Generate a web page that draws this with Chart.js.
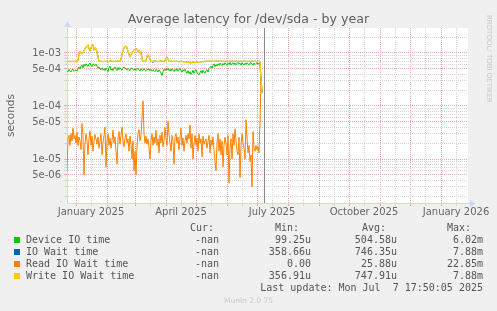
<!DOCTYPE html>
<html><head><meta charset="utf-8">
<script src="https://cdn.jsdelivr.net/npm/chart.js@4/dist/chart.umd.min.js"></script>
<style>
html,body{margin:0;padding:0;background:#F0F0F0;}
#wrap{position:relative;width:497px;height:311px;overflow:hidden;background:#F0F0F0;}
#c{position:absolute;left:0;top:0;}
#title{position:absolute;left:0;width:497px;top:11px;text-align:center;font-family:'DejaVu Sans',sans-serif;font-size:12.6px;line-height:16px;color:#5f5f5f;white-space:pre;}
.m{position:absolute;font-family:'DejaVu Sans Mono',monospace;font-size:10px;line-height:12px;height:12px;color:#555;white-space:pre;}
.r{text-align:right;}
.sw{position:absolute;width:6px;height:6px;}
#munin{position:absolute;left:0;width:497px;text-align:center;font-family:'DejaVu Sans',sans-serif;font-size:7.5px;line-height:10px;color:#c8c8c8;}
#rrd{position:absolute;font-family:'DejaVu Sans',sans-serif;font-size:7px;line-height:8px;color:#c8c8c8;white-space:pre;transform-origin:0 0;transform:rotate(90deg);}
</style></head>
<body><div id="wrap"><canvas id="c" width="497" height="311"></canvas></div>
<script>
// ---- data (values in microseconds, one per day starting at dayStart; day 0 = 1 Jan 2025)
const dayStart = -9;
const deviceIO = [470,445,485,455,440,475,495,450,470,
480,455,515,545,495,565,595,525,610,565,
625,575,555,615,645,585,555,625,600,575,
615,565,515,545,495,485,525,475,505,465,
515,485,445,535,565,475,505,465,515,545,
495,465,535,485,525,495,475,515,545,515,
505,475,515,485,465,505,525,485,475,505,
465,495,515,475,455,505,485,465,505,475,
465,495,475,505,465,495,455,485,465,445,
495,465,435,485,455,415,375,445,495,465,
505,475,515,465,495,455,505,475,445,495,
465,505,455,485,515,465,435,485,455,495,
445,415,465,405,445,395,425,475,415,455,
485,435,395,385,425,465,415,475,435,415,
465,485,435,505,535,565,515,585,625,555,
605,565,625,585,645,605,575,635,595,655,
615,585,645,605,665,595,635,655,605,645,
595,635,665,615,645,585,655,615,595,645,
605,655,625,595,645,665,615,585,645,605,
635,655,615,645,620,300,175];
const ioWait = [690,685,700,690,695,685,700,690,695,
690,700,720,950,1060,1000,980,1020,1120,1200,
1280,1350,1420,1200,1100,1250,1380,1430,1150,1250,
1200,1050,820,700,690,700,695,685,700,690,
695,700,690,685,700,720,690,700,695,690,
700,690,705,700,690,740,980,1100,1250,1320,
1340,1250,1060,950,860,920,1000,1080,1150,1170,
1200,1180,1050,1100,980,1050,760,700,690,700,
720,860,920,880,760,700,690,660,710,700,
690,700,695,690,700,710,700,690,700,720,
780,820,760,700,690,700,695,690,700,690,
690,700,695,680,690,700,685,690,680,690,
680,670,665,680,660,650,665,680,670,660,
670,680,665,660,670,685,690,680,690,700,
695,700,690,700,705,690,700,695,690,700,
695,700,705,690,700,695,700,690,700,695,
690,700,695,700,690,700,705,695,700,690,
700,695,690,700,695,700,690,695,700,690,
695,700,690,695,700,690,700,695,690,700,
695,690,700,690,680,330,185];
const readWait = [6,25,28,18,30,22,38,24,28,
20,32,18,26,22,15,47,28,5,20,
30,22,12,25,34,18,27,14,22,29,
24,19,26,16,21,30,12,20,28,40,
7,22,30,18,25,16,22,35,20,26,
14,8,24,33,19,28,40,22,17,25,
30,20,24,14,27,19,10,22,6,14,
5,18,30,36,22,28,60,125,30,20,
27,19,24,16,10,22,30,18,26,20,
35,18,24,13,28,20,32,17,22,40,
25,18,52,30,20,14,28,22,8,26,
30,20,26,15,24,38,18,25,14,22,
28,20,30,24,44,16,30,10,19,28,
18,25,14,30,20,24,11,27,19,22,
24,16,21,28,13,23,18,26,15,9,
6,20,30,14,24,12,22,7,18,26,
20,12,28,3.5,16,24,10,30,18,37,
22,14,12,26,4.5,18,30,20,16,10,
55,25,13,18,9,12,3,33,16,14,
18,15,17,13,50,300,180];
const writeWait = [690,685,700,690,695,685,700,690,695,
690,700,720,950,1060,1000,980,1020,1120,1200,
1280,1350,1420,1200,1100,1250,1380,1430,1150,1250,
1200,1050,820,700,690,700,695,685,700,690,
695,700,690,685,700,720,690,700,695,690,
700,690,705,700,690,740,980,1100,1250,1320,
1340,1250,1060,950,860,920,1000,1080,1150,1170,
1200,1180,1050,1100,980,1050,760,700,690,700,
720,860,920,880,760,700,690,700,710,700,
690,700,695,690,700,710,700,690,700,720,
780,820,760,700,690,700,695,690,700,690,
690,700,695,680,690,700,685,690,680,690,
680,670,665,680,660,650,665,680,670,660,
670,680,665,660,670,685,690,680,690,700,
695,700,690,700,705,690,700,695,690,700,
695,700,705,690,700,695,700,690,700,695,
690,700,695,700,690,700,705,695,700,690,
700,695,690,700,695,700,690,695,700,690,
695,700,690,695,700,690,700,695,690,700,
695,690,700,690,680,330,185];

const seriesNames = ['Device IO time','IO Wait time','Read IO Wait time','Write IO Wait time'];
const seriesColors = ['#00CC00','#0066B3','#FF8000','#FFCC00'];
const seriesWidths = [1, 1, 1, 1.4];
const curVals = ['-nan','-nan','-nan','-nan'];
const minVals = ['99.25u','358.66u','0.00','356.91u'];
const avgVals = ['504.58u','746.35u','25.88u','747.91u'];
const maxVals = ['6.02m','7.88m','22.85m','7.88m'];

const xLabelDays = [15,105,196,288,380];
const xLabels = ['January 2025','April 2025','July 2025','October 2025','January 2026'];
const monthStartDays = [0,31,59,90,120,151,181,212,243,273,304,334,365];
const midMonthDays = [15,46,74,105,135,166,196,227,258,288,319,349,380];
const yLabelValues = [5e-6,1e-5,5e-5,1e-4,5e-4,1e-3];
const nowDay = 187.74;
const xMin = -9, xMax = 392, yMin = 1.48e-6, yMax = 2.96e-3;
const titleText = 'Average latency for /dev/sda - by year';
const yTitle = 'seconds';
const lastUpdate = 'Last update: Mon Jul  7 17:50:05 2025';

// ---- build
const toPts = arr => arr.map((v,i)=>({x: dayStart + i, y: v*1e-6}));
const series = [deviceIO, ioWait, readWait, writeWait];
const datasets = series.map((arr,i)=>({
  label: seriesNames[i], data: toPts(arr), borderColor: seriesColors[i],
  borderWidth: seriesWidths[i], pointRadius: 0, tension: 0, fill: false, order: 3 - i
}));

const RED = '#eaa8a8', GRAY = '#d6d6d6';
const yTicks = [];
[1e-6,1e-5,1e-4,1e-3].forEach(d=>{[1,2,3,4,5,6,7,8,9].forEach(m=>{const v=m*d; if(v>=yMin&&v<=yMax) yTicks.push(v);});});
const mant = v => Math.round(v/Math.pow(10,Math.floor(Math.log10(v)+1e-9)));
const isYLabel = v => yLabelValues.some(l=>Math.abs(l-v)/l<1e-6);
const fmtY = v => { const e = Math.floor(Math.log10(v)+1e-9); const m = mant(v); return m + 'e-' + String(-e).padStart(2,'0'); };
const xTicks = [...monthStartDays, ...midMonthDays].filter(d=>d>=xMin&&d<=xMax).sort((a,b)=>a-b);

const deco = {
  id:'deco',
  beforeDraw(chart){
    const {ctx, chartArea:a} = chart;
    ctx.save(); ctx.fillStyle = '#FFFFFF';
    ctx.fillRect(a.left, a.top, a.right - a.left, a.bottom - a.top);
    ctx.restore();
  },
  afterDatasetsDraw(chart){
    const {ctx, chartArea:a, scales:{x}} = chart;
    ctx.save();
    const nx = Math.round(x.getPixelForValue(nowDay)) + 0.5;
    ctx.strokeStyle = '#888'; ctx.lineWidth = 1;
    ctx.beginPath(); ctx.moveTo(nx, a.top); ctx.lineTo(nx, a.bottom); ctx.stroke();
    ctx.restore();
  },
  afterDraw(chart){
    const {ctx, chartArea:a} = chart;
    ctx.save();
    ctx.fillStyle = '#CFD6F8'; ctx.strokeStyle = '#CFD6F8'; ctx.lineWidth = 1;
    const by = Math.round(a.bottom) + 0.5, lx = Math.round(a.left) + 0.5;
    ctx.beginPath(); ctx.moveTo(a.right, by); ctx.lineTo(a.right + 3, by); ctx.stroke();
    ctx.beginPath(); ctx.moveTo(a.right + 2, by - 3.5); ctx.lineTo(a.right + 7, by); ctx.lineTo(a.right + 2, by + 3.5); ctx.closePath(); ctx.fill();
    ctx.beginPath(); ctx.moveTo(lx - 3.5, a.top - 1); ctx.lineTo(lx, a.top - 7); ctx.lineTo(lx + 3.5, a.top - 1); ctx.closePath(); ctx.fill();
    ctx.restore();
  }
};

new Chart(document.getElementById('c'), {
  type:'line',
  data:{ datasets },
  plugins:[deco],
  options:{
    responsive:false, animation:false, devicePixelRatio:1,
    layout:{padding:{left:0,right:29,top:28,bottom:0}},
    plugins:{ legend:{display:false}, tooltip:{enabled:false}, title:{display:false} },
    scales:{
      x:{type:'linear', min:xMin, max:xMax,
        afterFit(s){ s.height = 108; },
        afterBuildTicks(s){ s.ticks = xTicks.map(v=>({value:v})); },
        ticks:{autoSkip:false, maxRotation:0, minRotation:0, padding:0, color:'#666',
          font:{family:'DejaVu Sans', size:10},
          callback:(v)=>{ const i = xLabelDays.indexOf(v); return i>=0 ? xLabels[i] : ''; }},
        grid:{color:c=> monthStartDays.includes(c.tick && c.tick.value) ? RED : GRAY,
          tickColor:c=> monthStartDays.includes(c.tick && c.tick.value) ? RED : GRAY,
          lineWidth:1, tickLength:3, drawTicks:true},
        border:{color:'#CFD6F8', width:1, dash:[1,1]}
      },
      y:{type:'logarithmic', min:yMin, max:yMax,
        afterFit(s){ s.width = 67; },
        afterBuildTicks(s){ s.ticks = yTicks.map(v=>({value:v})); },
        ticks:{autoSkip:false, padding:3, color:'#666', font:{family:'DejaVu Sans', size:10},
          callback:(v)=> isYLabel(v) ? fmtY(v) : ''},
        grid:{color:c=> (c.tick && [1,5].includes(mant(c.tick.value))) ? RED : GRAY,
          tickColor:c=> (c.tick && [1,5].includes(mant(c.tick.value))) ? RED : GRAY,
          lineWidth:1, tickLength:3, drawTicks:true},
        border:{color:'#CFD6F8', width:1, dash:[1,1]},
        title:{display:true, text:yTitle, color:'#666', font:{family:'DejaVu Sans', size:10.5, lineHeight:1.2}, padding:{top:5,bottom:0}}
      }
    }
  }
});

// ---- text outside the plot (HTML)
const wrap = document.getElementById('wrap');
const tt = document.createElement('div'); tt.id='title'; tt.textContent = titleText; wrap.appendChild(tt);
function addText(txt, cls, left, right, cy){
  const d = document.createElement('div'); d.className = cls; d.textContent = txt;
  d.style.top = (cy - 6) + 'px';
  if (right !== null) { d.style.right = (497 - right) + 'px'; } else { d.style.left = left + 'px'; }
  wrap.appendChild(d);
}
const hdrY = 227.5;
addText('Cur:', 'm', 190, null, hdrY);
addText('Min:', 'm', 275, null, hdrY);
addText('Avg:', 'm', 362, null, hdrY);
addText('Max:', 'm', 447, null, hdrY);
seriesNames.forEach((n,i)=>{
  const cy = 239.5 + 12*i;
  const sw = document.createElement('div'); sw.className='sw';
  sw.style.left='14px'; sw.style.top=(cy-3)+'px'; sw.style.background=seriesColors[i];
  wrap.appendChild(sw);
  addText(n, 'm', 26, null, cy);
  addText(curVals[i], 'm r', 0, 219, cy);
  addText(minVals[i], 'm r', 0, 311, cy);
  addText(avgVals[i], 'm r', 0, 397, cy);
  addText(maxVals[i], 'm r', 0, 483, cy);
});
addText(lastUpdate, 'm r', 0, 483, 287.5);
const mu = document.createElement('div'); mu.id='munin'; mu.textContent='Munin 2.0.75'; mu.style.top='295.5px'; wrap.appendChild(mu);
const rr = document.createElement('div'); rr.id='rrd'; rr.textContent='RRDTOOL/ TOBI OETIKER'; rr.style.left='492.5px'; rr.style.top='15px'; wrap.appendChild(rr);
</script>
</body></html>
